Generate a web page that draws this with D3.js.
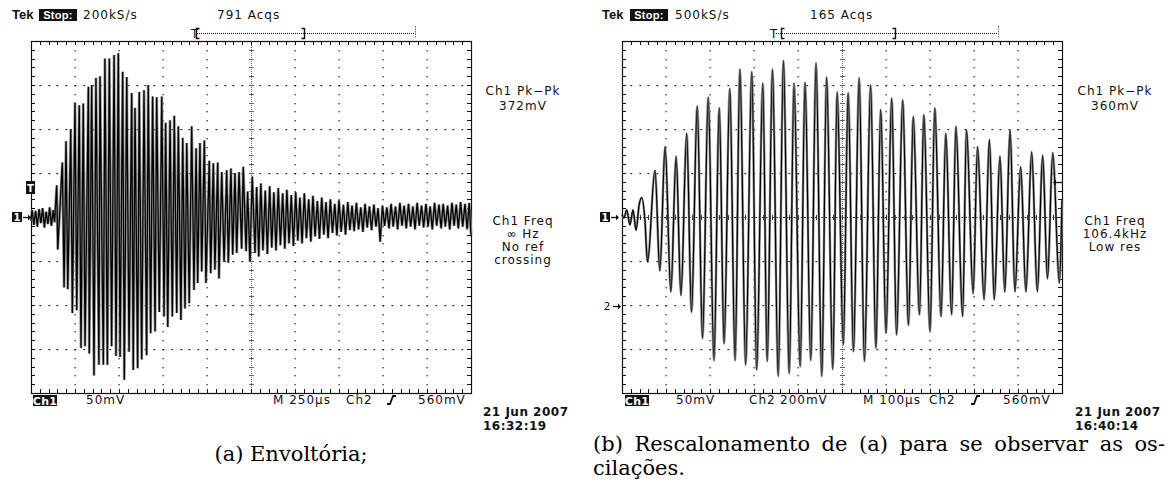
<!DOCTYPE html>
<html><head><meta charset="utf-8">
<script src="https://cdn.jsdelivr.net/npm/d3@7"></script>
<style>body{margin:0;background:#fff}svg{display:block}</style>
</head><body>
<svg id="c" width="1174" height="486"></svg>
<script>
// ---------------- DATA ----------------
// left scope: time (µs, 0..2500) and Ch1 voltage (mV), alternating extrema
const leftTrace = [
[0,-4],[6,8],[16,-9],[26,7],[36,-11],[46,9],[56,-7],[66,10],[76,-12],[86,6],[96,-8],[106,11],[116,-10],[126,8],[134,-6],
[146,36],[152,-37],[178,62],[188,-80],[199,86],[209,-82],[226,100],[235,-109],[250,130],[260,-106],
[274,127],[284,-149],[297,129],[307,-147],[326,148],[331,-155],[345,150],[358,-180],[369,158],[386,-168],
[392,160],[411,-168],[420,180],[434,-168],[445,180],[458,-147],[472,184],[483,-158],[496,186],[506,-159],
[521,165],[530,-185],[544,159],[557,-153],[572,141],[581,-174],[591,124],[606,-172],[615,142],[629,-162],
[642,144],[657,-157],[666,150],[680,-132],[691,137],[705,-130],[714,136],[729,-108],[743,137],[756,-113],
[765,107],[777,-125],[790,110],[803,-113],[814,115],[828,-109],[837,103],[852,-117],[862,90],[875,-104],
[885,84],[899,-98],[913,103],[926,-83],[938,78],[947,-75],[960,84],[970,-62],[985,87],[994,-75],
[1013,64],[1021,-64],[1036,61],[1045,-60],[1061,62],[1068,-70],[1084,51],[1097,-51],[1112,53],[1121,-52],
[1136,55],[1146,-43],[1159,50],[1169,-41],[1182,51],[1197,-36],[1206,57],[1222,-39],[1231,29],[1244,-51],
[1257,46],[1273,-41],[1282,34],[1294,-45],[1306,38],[1318,-38],[1331,30],[1343,-42],[1356,35],[1368,-35],
[1380,28],[1392,-38],[1405,33],[1417,-32],[1430,27],[1442,-36],[1454,31],[1466,-30],[1479,25],[1491,-33],
[1504,28],[1516,-27],[1528,22],[1540,-30],[1553,27],[1565,-24],[1578,20],[1590,-28],[1602,24],[1614,-22],
[1627,18],[1639,-25],[1652,22],[1664,-20],[1676,17],[1688,-24],[1701,20],[1713,-18],[1726,15],[1738,-21],
[1750,19],[1762,-17],[1775,14],[1787,-20],[1800,17],[1812,-15],[1824,13],[1836,-16],[1849,16],[1861,-14],
[1874,11],[1886,-17],[1898,15],[1910,-12],[1923,12],[1935,-15],[1948,14],[1960,-11],[1972,10],[1984,-28],
[1997,13],[2009,-10],[2022,11],[2034,-13],[2046,15],[2058,-11],[2071,12],[2083,-14],[2096,16],[2108,-10],
[2120,13],[2132,-13],[2145,15],[2157,-11],[2170,12],[2182,-14],[2194,16],[2206,-10],[2219,13],[2231,-12],
[2244,15],[2256,-11],[2268,12],[2280,-14],[2293,16],[2305,-10],[2318,14],[2330,-13],[2342,15],[2354,-11],
[2367,13],[2379,-14],[2392,16],[2404,-10],[2416,14],[2428,-13],[2441,17],[2453,-11],[2466,15],[2478,-14],
[2490,16],[2500,-20]
];
// right scope: time (µs, 0..1000) and Ch1 voltage (mV), peaks and troughs
const rightTrace = [
[0,3],[4.5,-1],[10.7,8],[18,-9],[25,8],[32,-15],[39,14],[45,22],[52,-3],
[58,-51],[75,53],[86,-61],[98,80],[111,-85],[123,69],[134,-89],[147,95],[158,-108],[171,126],
[183,-138],[196,136],[209,-163],[221,124],[232,-144],[245,146],[257,-163],[268,168],[281,-168],
[295,165],[306,-174],[320,152],[330,-164],[342,168],[355,-181],[367,178],[380,-178],[391,152],
[405,-170],[416,153],[429,-163],[441,175],[454,-181],[465,159],[479,-173],[489,142],[503,-145],
[514,141],[526,-153],[539,158],[551,-164],[565,150],[577,-149],[588,122],[600,-132],[613,135],
[624,-134],[638,133],[651,-123],[662,114],[676,-111],[686,116],[700,-130],[711,124],[725,-113],
[736,95],[749,-111],[759,103],[774,-113],[783,99],[798,-87],[808,80],[823,-94],[835,88],[846,-94],
[859,69],[870,-85],[882,99],[893,-85],[906,57],[918,-85],[931,74],[944,-85],[956,70],[967,-70],
[979,73],[994,-75],[1000,19]
];
const tekLabel = "Tek", stopLabel = "Stop:";
const sampleRates = ["200kS/s", "500kS/s"];
const acqCounts = ["791 Acqs", "165 Acqs"];
const pkpkLines = [["Ch1 Pk\u2212Pk", "372mV"], ["Ch1 Pk\u2212Pk", "360mV"]];
const freqLines = [["Ch1 Freq", "\u221e Hz", "No ref", "crossing"], ["Ch1 Freq", "106.4kHz", "Low res"]];
const bottomLeft = ["50mV", "M 250\u00b5s", "Ch2", "560mV"];
const bottomRight = ["50mV", "Ch2", "200mV", "M 100\u00b5s", "Ch2", "560mV"];
const dates = [["21 Jun 2007", "16:32:19"], ["21 Jun 2007", "16:40:14"]];
const captionA = "(a) Envolt\u00f3ria;";
const captionB = ["(b) Rescalonamento de (a) para se observar as os-", "cila\u00e7\u00f5es."];
const timeSpans = [2500, 1000];   // µs across 10 divisions
const voltRange = [-200, 200];    // mV across 8 divisions (50 mV/div)

// ---------------- DRAWING ----------------
const svg = d3.select("#c");
const FONT = "'DejaVu Sans', sans-serif";
const scopes = [{x0: 31, y0: 41}, {x0: 622, y0: 41}];
const GW = 440, GH = 352;

function txt(g, x, y, s, opts = {}) {
  return g.append("text").attr("x", x).attr("y", y).text(s)
    .attr("font-family", opts.family || FONT)
    .attr("font-size", opts.size || 12)
    .attr("font-weight", opts.weight || "normal")
    .attr("letter-spacing", opts.ls != null ? opts.ls : 1)
    .attr("text-anchor", opts.anchor || "start")
    .attr("fill", opts.fill || "#111");
}

function drawGrid(sc) {
  const g = svg.append("g");
  const xd = d3.scaleLinear().domain([0, 10]).range([sc.x0, sc.x0 + GW]);
  const yd = d3.scaleLinear().domain([4, -4]).range([sc.y0, sc.y0 + GH]);
  const minX = d3.range(0, 51).map(i => i / 5);
  const minY = d3.range(-20, 21).map(i => i / 5);
  const majX = d3.range(1, 10).filter(d => d !== 5);
  const majY = d3.range(-3, 4).filter(d => d !== 0);
  majX.forEach(mx => {
    g.selectAll(null).data(minY.slice(1, -1)).enter().append("rect")
      .attr("x", Math.round(xd(mx)) - 0.5).attr("y", d => Math.round(yd(d)))
      .attr("width", 1.2).attr("height", 1.4).attr("fill", "#222");
  });
  majY.forEach(my => {
    g.selectAll(null).data(minX.slice(1, -1)).enter().append("rect")
      .attr("x", d => Math.round(xd(d)) - 0.6).attr("y", Math.round(yd(my)))
      .attr("width", 1.8).attr("height", 1.2).attr("fill", "#222");
  });
  const cx = Math.round(xd(5)) + 0.5, cy = Math.round(yd(0)) + 0.5;
  g.append("line").attr("x1", sc.x0).attr("x2", sc.x0 + GW).attr("y1", cy).attr("y2", cy)
    .attr("stroke", "#222").attr("stroke-width", 1).attr("stroke-dasharray", "2,1.5");
  g.append("line").attr("y1", sc.y0).attr("y2", sc.y0 + GH).attr("x1", cx).attr("x2", cx)
    .attr("stroke", "#666").attr("stroke-width", 1).attr("stroke-dasharray", "1,1");
  g.selectAll(null).data(minX).enter().append("line")
    .attr("x1", d => Math.round(xd(d)) + 0.5).attr("x2", d => Math.round(xd(d)) + 0.5)
    .attr("y1", cy - 2.5).attr("y2", cy + 2.5).attr("stroke", "#333");
  g.selectAll(null).data(minY).enter().append("line")
    .attr("y1", d => Math.round(yd(d)) + 0.5).attr("y2", d => Math.round(yd(d)) + 0.5)
    .attr("x1", cx - 2.5).attr("x2", cx + 2.5).attr("stroke", "#666");
  g.selectAll(null).data(minX).enter().append("path")
    .attr("d", d => { const x = Math.round(xd(d)) + 0.5;
      return `M${x},${sc.y0}v4M${x},${sc.y0 + GH}v-4`; })
    .attr("stroke", "#111").attr("stroke-width", 1);
  g.selectAll(null).data(minY).enter().append("path")
    .attr("d", d => { const y = Math.round(yd(d)) + 0.5;
      return `M${sc.x0},${y}h4M${sc.x0 + GW},${y}h-4`; })
    .attr("stroke", "#111").attr("stroke-width", 1);
  g.append("rect").attr("x", sc.x0 + 0.5).attr("y", sc.y0 + 0.5).attr("width", GW).attr("height", GH)
    .attr("fill", "none").attr("stroke", "#111").attr("stroke-width", 1.2);
}

function drawTrace(sc, data, span, curve, col, w) {
  const x = d3.scaleLinear().domain([0, span]).range([sc.x0, sc.x0 + GW]);
  const y = d3.scaleLinear().domain(voltRange).range([sc.y0 + GH, sc.y0]);
  const line = d3.line().x(d => x(d[0])).y(d => y(d[1])).curve(curve);
  svg.append("path").datum(data).attr("d", line)
    .attr("fill", "none").attr("stroke", col).attr("stroke-width", w)
    .attr("stroke-linejoin", "miter").attr("stroke-miterlimit", 2);
}

scopes.forEach(drawGrid);
drawTrace(scopes[0], leftTrace, timeSpans[0], d3.curveLinear, "#9a9a9a", 2.8);
drawTrace(scopes[0], leftTrace, timeSpans[0], d3.curveLinear, "#000", 1.3);
drawTrace(scopes[1], rightTrace, timeSpans[1], d3.curveMonotoneX, "#8a8a8a", 2.4);
drawTrace(scopes[1], rightTrace, timeSpans[1], d3.curveMonotoneX, "#000", 1.2);

// ---------------- headers ----------------
const headerPos = [{tek: 12, box: 39, rate: 83, acq: 217}, {tek: 602, box: 630, rate: 675, acq: 810}];
headerPos.forEach((p, i) => {
  txt(svg, p.tek, 19, tekLabel, {family: "'Liberation Sans', sans-serif", weight: "bold", size: 13, ls: 0});
  svg.append("rect").attr("x", p.box).attr("y", 9).attr("width", 38).attr("height", 12).attr("fill", "#111");
  txt(svg, p.box + 19, 19, stopLabel, {family: "'Liberation Sans', sans-serif", weight: "bold", size: 11, fill: "#fff", anchor: "middle", ls: 0.3});
  txt(svg, p.rate, 19, sampleRates[i]);
  txt(svg, p.acq, 19, acqCounts[i]);
});

function bracketBar(tx, lb, rb, end) {
  const g = svg.append("g").attr("stroke", "#111").attr("fill", "none");
  txt(svg, tx, 38, "T", {size: 12, ls: 0});
  g.append("line").attr("x1", tx + 6).attr("x2", end).attr("y1", 33.5).attr("y2", 33.5)
    .attr("stroke-dasharray", "1,1").attr("stroke-width", 1);
  g.append("path").attr("d", `M${lb + 3},28.5H${lb}V38.5H${lb + 3}`).attr("stroke-width", 1.4);
  g.append("path").attr("d", `M${rb - 3},28.5H${rb}V38.5H${rb - 3}`).attr("stroke-width", 1.4);
  g.append("line").attr("x1", end + 0.5).attr("x2", end + 0.5).attr("y1", 26).attr("y2", 38)
    .attr("stroke-dasharray", "1.5,1").attr("stroke", "#666");
}
bracketBar(191, 196.5, 304.5, 415);
bracketBar(770, 781.5, 895.5, 998);

// ---------------- right-side readouts ----------------
const readX = [523, 1115];
readX.forEach((cx, i) => {
  pkpkLines[i].forEach((s, k) => txt(svg, cx, 95 + k * 15, s, {anchor: "middle"}));
  freqLines[i].forEach((s, k) => txt(svg, cx, 225 + k * 13, s, {anchor: "middle"}));
  dates[i].forEach((s, k) => txt(svg, [483, 1075][i], 416 + k * 14, s, {weight: "bold", ls: 0.5}));
});

// ---------------- bottom status lines ----------------
function chBox(x) {
  svg.append("rect").attr("x", x).attr("y", 395).attr("width", 24).attr("height", 11).attr("fill", "#111");
  txt(svg, x + 12, 404.5, "Ch1", {fill: "#fff", anchor: "middle", weight: "bold", size: 11, ls: 0.3});
}
function slope(x) {
  svg.append("path").attr("d", `M${x - 3},404H${x}L${x + 3},396H${x + 6}`)
    .attr("fill", "none").attr("stroke", "#111").attr("stroke-width", 1.8);
}
chBox(33);
[86, 273, 346, 418].forEach((x, k) => txt(svg, x, 404, bottomLeft[k]));
slope(390);
chBox(625);
[676, 749, 780, 863, 929, 1003].forEach((x, k) => txt(svg, x, 404, bottomRight[k]));
slope(974);

// ---------------- channel markers ----------------
function chMarker(x, y, label, boxed) {
  if (boxed) {
    svg.append("rect").attr("x", x).attr("y", y - 5).attr("width", 10).attr("height", 10).attr("fill", "#111");
    txt(svg, x + 5, y + 4, label, {fill: "#fff", anchor: "middle", size: 10, weight: "bold", ls: 0});
  } else {
    txt(svg, x + 5, y + 4, label, {anchor: "middle", size: 11, ls: 0});
  }
  svg.append("path").attr("d", `M${x + 11},${y + 0.5}h6`).attr("stroke", "#111").attr("stroke-width", 1.3);
  svg.append("path").attr("d", `M${x + 16},${y - 2.5}l3,3l-3,3z`).attr("fill", "#111");
}
chMarker(12, 217, "1", true);
chMarker(600, 217, "1", true);
chMarker(602, 306, "2", false);
svg.append("rect").attr("x", 26).attr("y", 181).attr("width", 9).attr("height", 13).attr("fill", "#111");
txt(svg, 30.5, 191.5, "T", {fill: "#fff", anchor: "middle", size: 10, weight: "bold", ls: 0});
svg.append("path").attr("d", "M1054,182.5h8").attr("stroke", "#111").attr("stroke-width", 1.3);
svg.append("path").attr("d", "M1056,179.5l-3,3l3,3z").attr("fill", "#111");

// ---------------- captions ----------------
const SERIF = "'DejaVu Serif', serif";
txt(svg, 291, 461, captionA, {family: SERIF, size: 21, ls: 0, anchor: "middle", fill: "#000"});
const l1 = txt(svg, 593, 451, captionB[0], {family: SERIF, size: 21, ls: 0, fill: "#000"});
const nat = l1.node().getComputedTextLength();
const nSp = captionB[0].split(" ").length - 1;
l1.attr("word-spacing", (572 - nat) / nSp);
txt(svg, 593, 475, captionB[1], {family: SERIF, size: 21, ls: 0, fill: "#000"});
</script>
</body></html>
